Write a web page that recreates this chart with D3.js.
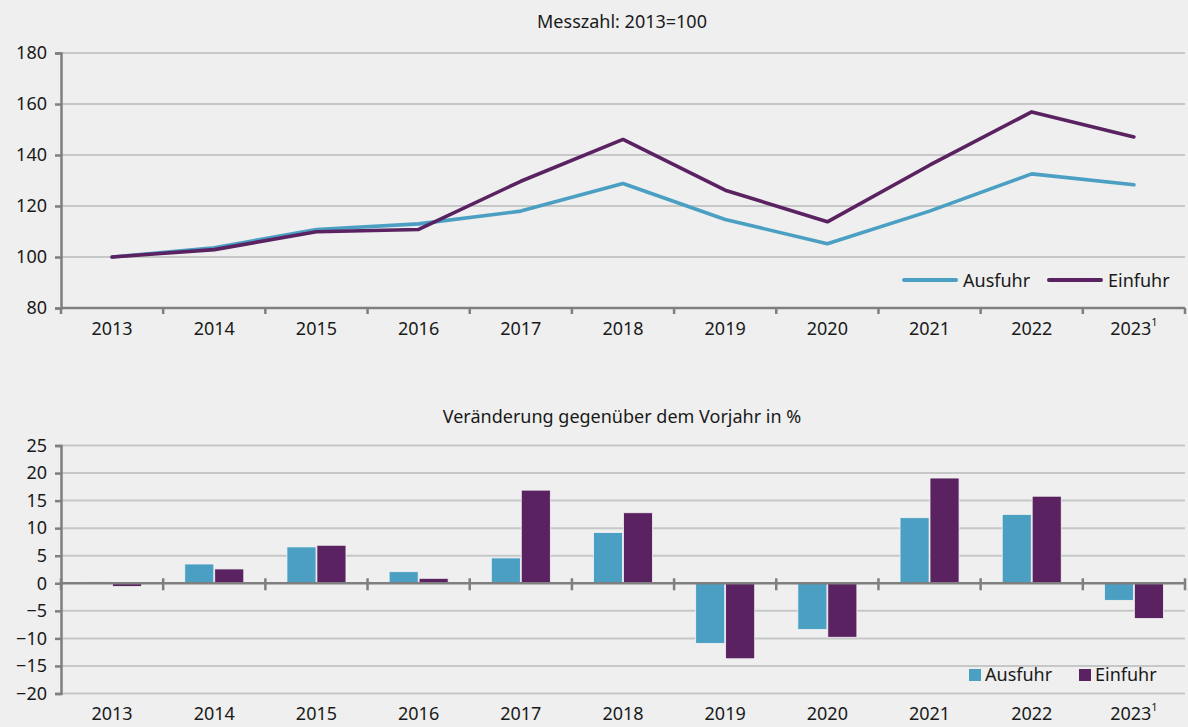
<!DOCTYPE html>
<html>
<head>
<meta charset="utf-8">
<script src="https://cdn.jsdelivr.net/npm/d3@7"></script>
<style>
  html, body { margin: 0; padding: 0; background: #eeefee; }
  svg { display: block; font-family: "Noto Sans", "Open Sans", sans-serif; }
</style>
</head>
<body>
<svg id="chart" width="1188" height="727"></svg>
<script>
// Years and series
const years = ["2013", "2014", "2015", "2016", "2017", "2018", "2019", "2020", "2021", "2022", "2023"];
const seriesNames = ["Ausfuhr", "Einfuhr"];

// Index values, 2013 = 100
const indexAusfuhr = [100, 103.6, 110.8, 113.0, 118.0, 128.8, 114.7, 105.2, 118.0, 132.6, 128.3];
const indexEinfuhr = [100, 102.9, 109.9, 110.8, 129.7, 146.1, 126.2, 113.8, 136.0, 156.9, 147.1];

// Change over previous year, %
const changeAusfuhr = [0.3, 3.5, 6.6, 2.1, 4.6, 9.2, -10.9, -8.4, 11.9, 12.5, -3.1];
const changeEinfuhr = [-0.6, 2.6, 6.9, 0.9, 16.9, 12.8, -13.7, -9.8, 19.1, 15.8, -6.4];

// Axis ticks
const indexTicks = [80, 100, 120, 140, 160, 180];
const changeTicks = [-20, -15, -10, -5, 0, 5, 10, 15, 20, 25];

const colors = { Ausfuhr: "#4b9fc3", Einfuhr: "#5a2261" };
const gridColor = "#c6c7c7";
const axisColor = "#7f7f7f";
const textColor = "#1a1a1a";

const svg = d3.select("#chart");
const left = 61, right = 1185;

const x = d3.scaleBand().domain(years).range([left, right]).padding(0);

function yearLabels(g, yPos) {
  years.forEach((yr, i) => {
    const t = g.append("text")
      .attr("x", x(yr) + x.bandwidth() / 2)
      .attr("y", yPos)
      .attr("text-anchor", "middle")
      .attr("font-size", 18)
      .attr("fill", textColor)
      .text(yr);
    if (i === years.length - 1) {
      t.append("tspan").attr("font-size", 11).attr("dy", -9).text("1");
    }
  });
}

// ---------- Upper panel: index lines ----------
const yIdx = d3.scaleLinear().domain([80, 180]).range([308, 53]);
const upper = svg.append("g");

upper.append("text")
  .attr("x", 622).attr("y", 28)
  .attr("text-anchor", "middle").attr("font-size", 18).attr("fill", textColor)
  .text("Messzahl: 2013=100");

upper.selectAll("line.grid").data(indexTicks.filter(d => d !== 80)).join("line")
  .attr("x1", left).attr("x2", right)
  .attr("y1", d => yIdx(d)).attr("y2", d => yIdx(d))
  .attr("stroke", gridColor).attr("stroke-width", 2);

const yAxisTop = d3.axisLeft(yIdx).tickValues(indexTicks).tickSize(6).tickPadding(8);
const gyTop = upper.append("g").attr("transform", `translate(${left},0)`).call(yAxisTop);
gyTop.select(".domain").attr("stroke", axisColor).attr("stroke-width", 2.5);
gyTop.selectAll(".tick line").attr("stroke", axisColor).attr("stroke-width", 2.5);
gyTop.selectAll(".tick text").attr("font-size", 18).attr("fill", textColor);
gyTop.attr("font-family", null).attr("font-size", null);

// x axis baseline with boundary ticks
upper.append("line").attr("x1", left).attr("x2", right)
  .attr("y1", yIdx(80)).attr("y2", yIdx(80))
  .attr("stroke", axisColor).attr("stroke-width", 2.5);
upper.selectAll("line.xtick").data(years.map(y => x(y)).concat([right])).join("line")
  .attr("x1", d => d).attr("x2", d => d)
  .attr("y1", yIdx(80)).attr("y2", yIdx(80) + 6)
  .attr("stroke", axisColor).attr("stroke-width", 2.5);
yearLabels(upper, 335);

const line = d3.line()
  .x((d, i) => x(years[i]) + x.bandwidth() / 2)
  .y(d => yIdx(d));

[["Ausfuhr", indexAusfuhr], ["Einfuhr", indexEinfuhr]].forEach(([name, vals]) => {
  upper.append("path").datum(vals)
    .attr("d", line)
    .attr("fill", "none")
    .attr("stroke", colors[name])
    .attr("stroke-width", 3.6)
    .attr("stroke-linejoin", "round")
    .attr("stroke-linecap", "round");
});

// upper legend
const legTop = upper.append("g");
[["Ausfuhr", 904], ["Einfuhr", 1049]].forEach(([name, lx]) => {
  legTop.append("line").attr("x1", lx).attr("x2", lx + 52)
    .attr("y1", 280).attr("y2", 280)
    .attr("stroke", colors[name]).attr("stroke-width", 4).attr("stroke-linecap", "round");
  legTop.append("text").attr("x", lx + 59).attr("y", 286.5)
    .attr("font-size", 18).attr("fill", textColor).text(name);
});

// ---------- Lower panel: change bars ----------
const yChg = d3.scaleLinear().domain([-20, 25]).range([693.5, 445.5]);
const lower = svg.append("g");

lower.append("text")
  .attr("x", 622).attr("y", 422.5)
  .attr("text-anchor", "middle").attr("font-size", 18).attr("fill", textColor)
  .text("Veränderung gegenüber dem Vorjahr in %");

lower.selectAll("line.grid").data(changeTicks.filter(d => d !== 0)).join("line")
  .attr("x1", left).attr("x2", right)
  .attr("y1", d => yChg(d)).attr("y2", d => yChg(d))
  .attr("stroke", gridColor).attr("stroke-width", 2);

const xInner = d3.scaleBand().domain(seriesNames).range([0, x.bandwidth()]).paddingInner(0.03).paddingOuter(0.72);

const barData = [];
years.forEach((yr, i) => {
  barData.push({ year: yr, name: "Ausfuhr", v: changeAusfuhr[i] });
  barData.push({ year: yr, name: "Einfuhr", v: changeEinfuhr[i] });
});

lower.selectAll("rect.bar").data(barData).join("rect")
  .attr("x", d => x(d.year) + xInner(d.name))
  .attr("width", xInner.bandwidth())
  .attr("y", d => yChg(Math.max(0, d.v)))
  .attr("height", d => Math.abs(yChg(d.v) - yChg(0)))
  .attr("fill", d => colors[d.name])
  .attr("stroke", "#f4f4f4").attr("stroke-width", 0.8);

const yAxisBot = d3.axisLeft(yChg).tickValues(changeTicks).tickSize(6).tickPadding(8);
const gyBot = lower.append("g").attr("transform", `translate(${left},0)`).call(yAxisBot);
gyBot.select(".domain").attr("stroke", axisColor).attr("stroke-width", 2.5);
gyBot.selectAll(".tick line").attr("stroke", axisColor).attr("stroke-width", 2.5);
gyBot.selectAll(".tick text").attr("font-size", 18).attr("fill", textColor);
gyBot.attr("font-family", null).attr("font-size", null);

// zero line with boundary ticks
lower.append("line").attr("x1", left).attr("x2", right)
  .attr("y1", yChg(0)).attr("y2", yChg(0))
  .attr("stroke", axisColor).attr("stroke-width", 2.5);
lower.selectAll("line.xtick").data(years.map(y => x(y)).concat([right])).join("line")
  .attr("x1", d => d).attr("x2", d => d)
  .attr("y1", yChg(0) - 5).attr("y2", yChg(0) + 7)
  .attr("stroke", axisColor).attr("stroke-width", 2.5);
yearLabels(lower, 720);

// lower legend
const legBot = lower.append("g");
[["Ausfuhr", 969], ["Einfuhr", 1079]].forEach(([name, lx]) => {
  legBot.append("rect").attr("x", lx).attr("y", 669).attr("width", 12).attr("height", 12)
    .attr("fill", colors[name]);
  legBot.append("text").attr("x", lx + 16).attr("y", 681)
    .attr("font-size", 18).attr("fill", textColor).text(name);
});
</script>
</body>
</html>
